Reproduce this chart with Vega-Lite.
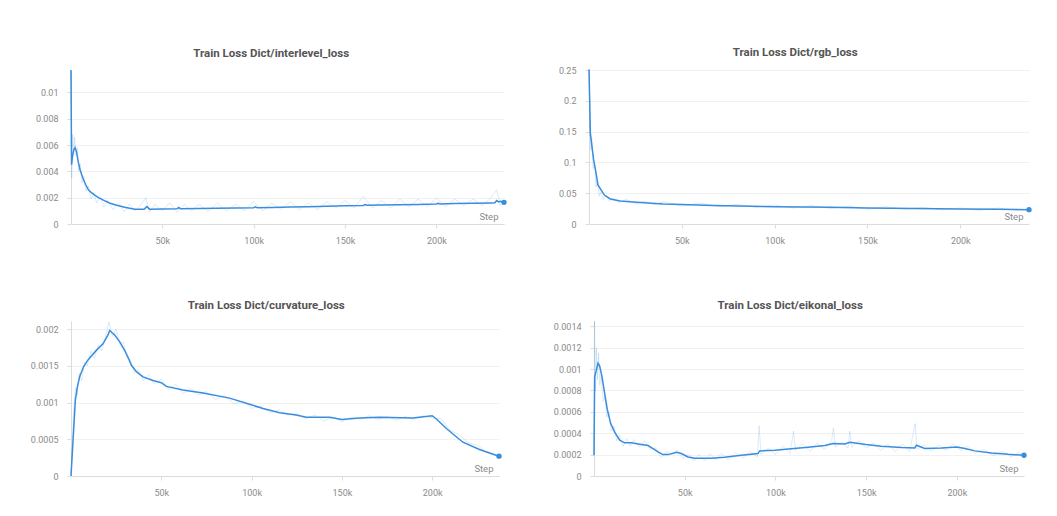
{
  "$schema": "https://vega.github.io/schema/vega-lite/v6.json",
  "background": "white",
  "padding": {"left": 30, "top": 46, "right": 5, "bottom": 5},
  "config": {
    "view": {"stroke": null},
    "axis": {"domainColor": "#dcdcdc", "tickColor": "#dcdcdc", "gridColor": "#f1f1f1", "labelColor": "#8a8a8a", "labelFont": "Roboto", "labelFontSize": 9, "tickSize": 4, "titleFont": "Roboto", "titleFontSize": 9.5, "titleFontWeight": "normal", "titleColor": "#8a8a8a"},
    "axisX": {"grid": false, "labelPadding": 8, "titleAlign": "right", "titleBaseline": "middle", "titleY": -8},
    "axisY": {"grid": true, "title": null, "labelPadding": 9, "format": "~g"},
    "title": {"font": "Roboto", "fontSize": 11.5, "fontWeight": "bold", "color": "#555555", "offset": 8, "anchor": "middle", "frame": "bounds"},
    "line": {"color": "#3a8ddd"},
    "circle": {"color": "#3a8ddd", "opacity": 1}
  },
  "datasets": {
    "interlevel_smooth": [
      {"step":0,"value":0.0117},{"step":300,"value":0.0045},{"step":800,"value":0.0051},{"step":1500,"value":0.0056},{"step":2200,"value":0.0058},{"step":3000,"value":0.0055},{"step":4000,"value":0.0047},{"step":5000,"value":0.0041},{"step":6500,"value":0.0035},{"step":8000,"value":0.003},{"step":9500,"value":0.0026},{"step":11000,"value":0.0024},{"step":13000,"value":0.0022},{"step":15000,"value":0.002},{"step":18000,"value":0.0018},{"step":21000,"value":0.0016},{"step":25000,"value":0.00143},{"step":30000,"value":0.00125},{"step":35000,"value":0.00113},{"step":40000,"value":0.00112},{"step":41500,"value":0.00132},{"step":43000,"value":0.00113},{"step":50000,"value":0.00114},{"step":58000,"value":0.00115},{"step":59000,"value":0.00125},{"step":60000,"value":0.00115},{"step":70000,"value":0.00117},{"step":80000,"value":0.00119},{"step":90000,"value":0.00121},{"step":100000,"value":0.00124},{"step":101000,"value":0.0013},{"step":102000,"value":0.00123},{"step":110000,"value":0.00126},{"step":120000,"value":0.00129},{"step":130000,"value":0.00132},{"step":140000,"value":0.00135},{"step":150000,"value":0.00138},{"step":160000,"value":0.00141},{"step":161000,"value":0.00148},{"step":162000,"value":0.00142},{"step":170000,"value":0.00144},{"step":180000,"value":0.00146},{"step":190000,"value":0.00149},{"step":200000,"value":0.00152},{"step":201000,"value":0.00158},{"step":202000,"value":0.00152},{"step":210000,"value":0.00155},{"step":220000,"value":0.00157},{"step":230000,"value":0.0016},{"step":232000,"value":0.00161},{"step":233000,"value":0.00178},{"step":234000,"value":0.00168},{"step":235000,"value":0.00172},{"step":237000,"value":0.00165}
    ],
    "interlevel_raw": [
      {"step":0,"value":0.0117},{"step":400,"value":0.0035},{"step":900,"value":0.0068},{"step":1400,"value":0.0055},{"step":2000,"value":0.0066},{"step":2700,"value":0.0052},{"step":3400,"value":0.0058},{"step":4200,"value":0.004},{"step":5000,"value":0.0046},{"step":6000,"value":0.0031},{"step":7000,"value":0.0036},{"step":8200,"value":0.0025},{"step":9500,"value":0.0029},{"step":11000,"value":0.0019},{"step":12500,"value":0.0024},{"step":14000,"value":0.0016},{"step":16000,"value":0.0021},{"step":18000,"value":0.0013},{"step":20000,"value":0.0018},{"step":23000,"value":0.0011},{"step":26000,"value":0.0016},{"step":29000,"value":0.00095},{"step":32000,"value":0.0015},{"step":35000,"value":0.001},{"step":38000,"value":0.0014},{"step":41000,"value":0.002},{"step":43000,"value":0.0009},{"step":46000,"value":0.0015},{"step":50000,"value":0.001},{"step":54000,"value":0.0016},{"step":58000,"value":0.0009},{"step":62000,"value":0.0015},{"step":66000,"value":0.001},{"step":70000,"value":0.0015},{"step":75000,"value":0.00095},{"step":80000,"value":0.0016},{"step":85000,"value":0.001},{"step":90000,"value":0.0015},{"step":95000,"value":0.001},{"step":100000,"value":0.0017},{"step":105000,"value":0.001},{"step":110000,"value":0.0016},{"step":115000,"value":0.0011},{"step":120000,"value":0.0017},{"step":125000,"value":0.0011},{"step":130000,"value":0.0016},{"step":135000,"value":0.0011},{"step":140000,"value":0.0017},{"step":145000,"value":0.0012},{"step":150000,"value":0.0018},{"step":155000,"value":0.0012},{"step":160000,"value":0.0021},{"step":165000,"value":0.0012},{"step":170000,"value":0.0018},{"step":175000,"value":0.0012},{"step":180000,"value":0.0019},{"step":185000,"value":0.0013},{"step":190000,"value":0.0019},{"step":195000,"value":0.0013},{"step":200000,"value":0.002},{"step":205000,"value":0.0013},{"step":210000,"value":0.0019},{"step":215000,"value":0.0014},{"step":220000,"value":0.0019},{"step":225000,"value":0.0014},{"step":230000,"value":0.002},{"step":233000,"value":0.0026},{"step":235000,"value":0.0014},{"step":237000,"value":0.0017}
    ],
    "rgb_smooth": [
      {"step":0,"value":0.251},{"step":360,"value":0.202},{"step":720,"value":0.148},{"step":1600,"value":0.126},{"step":2500,"value":0.104},{"step":3800,"value":0.0826},{"step":4800,"value":0.0635},{"step":6500,"value":0.0554},{"step":8300,"value":0.047},{"step":11500,"value":0.0407},{"step":16900,"value":0.0375},{"step":25800,"value":0.0353},{"step":40000,"value":0.0326},{"step":50000,"value":0.0315},{"step":67000,"value":0.0299},{"step":100000,"value":0.0282},{"step":130000,"value":0.0272},{"step":150000,"value":0.026},{"step":175000,"value":0.025},{"step":200000,"value":0.0244},{"step":220000,"value":0.0239},{"step":237000,"value":0.0233}
    ],
    "rgb_raw": [
      {"step":0,"value":0.25},{"step":500,"value":0.17},{"step":1000,"value":0.12},{"step":1500,"value":0.14},{"step":2200,"value":0.09},{"step":3000,"value":0.1},{"step":3800,"value":0.06},{"step":4600,"value":0.07},{"step":5500,"value":0.045},{"step":6500,"value":0.052},{"step":7500,"value":0.04},{"step":9000,"value":0.046},{"step":11000,"value":0.037},{"step":13000,"value":0.042},{"step":16000,"value":0.034},{"step":20000,"value":0.04},{"step":25000,"value":0.032},{"step":30000,"value":0.037},{"step":35000,"value":0.031},{"step":40000,"value":0.036},{"step":50000,"value":0.029},{"step":60000,"value":0.034},{"step":70000,"value":0.028},{"step":80000,"value":0.032},{"step":90000,"value":0.027},{"step":100000,"value":0.031},{"step":110000,"value":0.026},{"step":120000,"value":0.03},{"step":130000,"value":0.025},{"step":140000,"value":0.029},{"step":150000,"value":0.024},{"step":160000,"value":0.028},{"step":170000,"value":0.024},{"step":180000,"value":0.027},{"step":190000,"value":0.023},{"step":200000,"value":0.026},{"step":210000,"value":0.022},{"step":220000,"value":0.026},{"step":230000,"value":0.022},{"step":237000,"value":0.024}
    ],
    "curvature_smooth": [
      {"step":0,"value":0},{"step":2400,"value":0.00103},{"step":3500,"value":0.00121},{"step":4800,"value":0.00135},{"step":7000,"value":0.00149},{"step":9400,"value":0.00158},{"step":14000,"value":0.00171},{"step":17700,"value":0.0018},{"step":20500,"value":0.00192},{"step":21400,"value":0.00198},{"step":24200,"value":0.00192},{"step":26900,"value":0.00183},{"step":29700,"value":0.00171},{"step":31500,"value":0.00162},{"step":33400,"value":0.00151},{"step":36200,"value":0.00142},{"step":39900,"value":0.00135},{"step":45400,"value":0.0013},{"step":50000,"value":0.00127},{"step":52800,"value":0.00122},{"step":62000,"value":0.00117},{"step":73100,"value":0.00113},{"step":87800,"value":0.00106},{"step":99800,"value":0.00097},{"step":106300,"value":0.00092},{"step":115500,"value":0.00086},{"step":124700,"value":0.00083},{"step":130300,"value":0.0008},{"step":143200,"value":0.0008},{"step":150000,"value":0.00077},{"step":159800,"value":0.00079},{"step":170800,"value":0.0008},{"step":189300,"value":0.00079},{"step":200000,"value":0.00082},{"step":202200,"value":0.00078},{"step":207700,"value":0.00065},{"step":217000,"value":0.00046},{"step":226200,"value":0.00036},{"step":237000,"value":0.00027}
    ],
    "curvature_raw": [
      {"step":0,"value":0},{"step":1500,"value":0.0009},{"step":2500,"value":0.0012},{"step":3500,"value":0.0011},{"step":4500,"value":0.0014},{"step":6000,"value":0.0013},{"step":7500,"value":0.00155},{"step":9000,"value":0.0015},{"step":11000,"value":0.0017},{"step":13000,"value":0.0016},{"step":15000,"value":0.00178},{"step":17000,"value":0.0017},{"step":19000,"value":0.00188},{"step":21000,"value":0.0021},{"step":23000,"value":0.0019},{"step":25000,"value":0.002},{"step":27000,"value":0.0018},{"step":29000,"value":0.00182},{"step":31000,"value":0.0016},{"step":33000,"value":0.00158},{"step":35000,"value":0.0014},{"step":37000,"value":0.00145},{"step":40000,"value":0.0013},{"step":43000,"value":0.00138},{"step":46000,"value":0.00125},{"step":50000,"value":0.00132},{"step":54000,"value":0.00118},{"step":58000,"value":0.00125},{"step":62000,"value":0.00112},{"step":66000,"value":0.0012},{"step":70000,"value":0.0011},{"step":75000,"value":0.00115},{"step":80000,"value":0.00104},{"step":85000,"value":0.0011},{"step":90000,"value":0.00098},{"step":95000,"value":0.00102},{"step":100000,"value":0.00092},{"step":105000,"value":0.00095},{"step":110000,"value":0.00086},{"step":115000,"value":0.0009},{"step":120000,"value":0.00083},{"step":125000,"value":0.00085},{"step":130000,"value":0.00078},{"step":135000,"value":0.00083},{"step":140000,"value":0.00075},{"step":145000,"value":0.0008},{"step":150000,"value":0.00074},{"step":155000,"value":0.0008},{"step":160000,"value":0.00077},{"step":165000,"value":0.00082},{"step":170000,"value":0.00077},{"step":175000,"value":0.00081},{"step":180000,"value":0.00076},{"step":185000,"value":0.00081},{"step":190000,"value":0.00077},{"step":195000,"value":0.00082},{"step":200000,"value":0.00079},{"step":205000,"value":0.00078},{"step":210000,"value":0.00062},{"step":215000,"value":0.00056},{"step":220000,"value":0.00045},{"step":225000,"value":0.00042},{"step":230000,"value":0.00032},{"step":237000,"value":0.00027}
    ],
    "eikonal_smooth": [
      {"step":0,"value":0.000194},{"step":370,"value":0.00093},{"step":1300,"value":0.00099},{"step":2200,"value":0.001055},{"step":3100,"value":0.00103},{"step":4400,"value":0.00093},{"step":5900,"value":0.00077},{"step":7350,"value":0.00062},{"step":9200,"value":0.00049},{"step":11400,"value":0.00041},{"step":14150,"value":0.000335},{"step":16900,"value":0.00031},{"step":20600,"value":0.00031},{"step":24300,"value":0.0003},{"step":29800,"value":0.000285},{"step":32500,"value":0.000257},{"step":35300,"value":0.000225},{"step":38000,"value":0.0002},{"step":40800,"value":0.0002},{"step":45400,"value":0.000222},{"step":48200,"value":0.00021},{"step":51800,"value":0.000178},{"step":55500,"value":0.000166},{"step":64700,"value":0.000166},{"step":72000,"value":0.000175},{"step":81200,"value":0.000194},{"step":90400,"value":0.00021},{"step":91300,"value":0.000235},{"step":99600,"value":0.00024},{"step":108800,"value":0.000254},{"step":118000,"value":0.00027},{"step":127200,"value":0.000285},{"step":131800,"value":0.000304},{"step":138200,"value":0.0003},{"step":141000,"value":0.000316},{"step":149800,"value":0.000294},{"step":158400,"value":0.000279},{"step":169500,"value":0.000266},{"step":176800,"value":0.000263},{"step":177700,"value":0.000288},{"step":182300,"value":0.000257},{"step":191500,"value":0.000263},{"step":200000,"value":0.000272},{"step":204400,"value":0.000257},{"step":209900,"value":0.000235},{"step":219100,"value":0.000216},{"step":228300,"value":0.000203},{"step":237000,"value":0.000194}
    ],
    "eikonal_raw": [
      {"step":0,"value":0.0002},{"step":300,"value":0.00145},{"step":800,"value":0.0008},{"step":1300,"value":0.0012},{"step":1900,"value":0.0009},{"step":2500,"value":0.00115},{"step":3200,"value":0.00085},{"step":4000,"value":0.00095},{"step":5000,"value":0.0007},{"step":6000,"value":0.00075},{"step":7000,"value":0.00055},{"step":8200,"value":0.0006},{"step":9500,"value":0.00042},{"step":11000,"value":0.00047},{"step":12500,"value":0.00033},{"step":14000,"value":0.00038},{"step":16000,"value":0.00028},{"step":18000,"value":0.00035},{"step":20000,"value":0.00028},{"step":22000,"value":0.00034},{"step":25000,"value":0.00027},{"step":28000,"value":0.00033},{"step":31000,"value":0.00025},{"step":34000,"value":0.00026},{"step":37000,"value":0.00017},{"step":40000,"value":0.00023},{"step":43000,"value":0.0002},{"step":46000,"value":0.00024},{"step":49000,"value":0.00016},{"step":52000,"value":0.00021},{"step":55000,"value":0.00014},{"step":58000,"value":0.0002},{"step":61000,"value":0.00014},{"step":64000,"value":0.00021},{"step":67000,"value":0.00015},{"step":70000,"value":0.00021},{"step":74000,"value":0.00015},{"step":78000,"value":0.00022},{"step":82000,"value":0.00017},{"step":86000,"value":0.00023},{"step":90000,"value":0.00018},{"step":91000,"value":0.00047},{"step":92000,"value":0.0002},{"step":96000,"value":0.00026},{"step":100000,"value":0.0002},{"step":104000,"value":0.00028},{"step":108000,"value":0.00021},{"step":110000,"value":0.00042},{"step":111000,"value":0.00024},{"step":115000,"value":0.0003},{"step":119000,"value":0.00023},{"step":123000,"value":0.00031},{"step":127000,"value":0.00025},{"step":131000,"value":0.00033},{"step":132000,"value":0.00045},{"step":133000,"value":0.00027},{"step":137000,"value":0.00032},{"step":140000,"value":0.00026},{"step":141000,"value":0.00042},{"step":142000,"value":0.00027},{"step":146000,"value":0.00033},{"step":150000,"value":0.00026},{"step":154000,"value":0.00031},{"step":158000,"value":0.00024},{"step":162000,"value":0.0003},{"step":166000,"value":0.00023},{"step":170000,"value":0.0003},{"step":174000,"value":0.00023},{"step":177000,"value":0.00049},{"step":178000,"value":0.00025},{"step":182000,"value":0.00029},{"step":186000,"value":0.00023},{"step":190000,"value":0.00029},{"step":194000,"value":0.00024},{"step":198000,"value":0.0003},{"step":202000,"value":0.00024},{"step":206000,"value":0.00028},{"step":210000,"value":0.00021},{"step":215000,"value":0.00025},{"step":220000,"value":0.00019},{"step":225000,"value":0.00023},{"step":230000,"value":0.00018},{"step":234000,"value":0.00022},{"step":237000,"value":0.0002}
    ]
  },
  "align": "none",
  "spacing": 54,
  "vconcat": [
    {
      "spacing": 51,
      "hconcat": [
        {
          "width": 433, "height": 154,
          "title": "Train Loss Dict/interlevel_loss",
          "encoding": {
            "x": {"field": "step", "type": "quantitative", "scale": {"domain": [0, 237000], "nice": false, "zero": false}, "axis": {"values": [50000, 100000, 150000, 200000], "format": "~s", "title": "Step", "titleX": 427}},
            "y": {"field": "value", "type": "quantitative", "scale": {"domain": [0, 0.0117], "nice": false}, "axis": {"values": [0, 0.002, 0.004, 0.006, 0.008, 0.01]}}
          },
          "layer": [
            {"data": {"name": "interlevel_raw"}, "mark": {"type": "line", "opacity": 0.18, "strokeWidth": 1}},
            {"data": {"name": "interlevel_smooth"}, "mark": {"type": "line", "strokeWidth": 1.5}},
            {"data": {"name": "interlevel_smooth"}, "transform": [{"filter": {"field": "step", "equal": 237000}}], "mark": {"type": "circle", "size": 28}}
          ]
        },
        {
          "width": 440, "height": 154,
          "title": "Train Loss Dict/rgb_loss",
          "encoding": {
            "x": {"field": "step", "type": "quantitative", "scale": {"domain": [0, 237000], "nice": false, "zero": false}, "axis": {"values": [50000, 100000, 150000, 200000], "format": "~s", "title": "Step", "titleX": 434}},
            "y": {"field": "value", "type": "quantitative", "scale": {"domain": [0, 0.25], "nice": false}, "axis": {"values": [0, 0.05, 0.1, 0.15, 0.2, 0.25]}}
          },
          "layer": [
            {"data": {"name": "rgb_raw"}, "mark": {"type": "line", "opacity": 0.18, "strokeWidth": 1}},
            {"data": {"name": "rgb_smooth"}, "mark": {"type": "line", "strokeWidth": 1.5}},
            {"data": {"name": "rgb_smooth"}, "transform": [{"filter": {"field": "step", "equal": 237000}}], "mark": {"type": "circle", "size": 28}}
          ]
        }
      ]
    },
    {
      "spacing": 51,
      "hconcat": [
        {
          "width": 428, "height": 155,
          "title": "Train Loss Dict/curvature_loss",
          "encoding": {
            "x": {"field": "step", "type": "quantitative", "scale": {"domain": [0, 237000], "nice": false, "zero": false}, "axis": {"values": [50000, 100000, 150000, 200000], "format": "~s", "title": "Step", "titleX": 422}},
            "y": {"field": "value", "type": "quantitative", "scale": {"domain": [0, 0.00211], "nice": false}, "axis": {"values": [0, 0.0005, 0.001, 0.0015, 0.002]}}
          },
          "layer": [
            {"data": {"name": "curvature_raw"}, "mark": {"type": "line", "opacity": 0.18, "strokeWidth": 1}},
            {"data": {"name": "curvature_smooth"}, "mark": {"type": "line", "strokeWidth": 1.5}},
            {"data": {"name": "curvature_smooth"}, "transform": [{"filter": {"field": "step", "equal": 237000}}], "mark": {"type": "circle", "size": 28}}
          ]
        },
        {
          "width": 430, "height": 155,
          "title": "Train Loss Dict/eikonal_loss",
          "encoding": {
            "x": {"field": "step", "type": "quantitative", "scale": {"domain": [0, 237000], "nice": false, "zero": false}, "axis": {"values": [50000, 100000, 150000, 200000], "format": "~s", "title": "Step", "titleX": 424}},
            "y": {"field": "value", "type": "quantitative", "scale": {"domain": [0, 0.00145], "nice": false}, "axis": {"values": [0, 0.0002, 0.0004, 0.0006, 0.0008, 0.001, 0.0012, 0.0014]}}
          },
          "layer": [
            {"data": {"name": "eikonal_raw"}, "mark": {"type": "line", "opacity": 0.18, "strokeWidth": 1}},
            {"data": {"name": "eikonal_smooth"}, "mark": {"type": "line", "strokeWidth": 1.5}},
            {"data": {"name": "eikonal_smooth"}, "transform": [{"filter": {"field": "step", "equal": 237000}}], "mark": {"type": "circle", "size": 28}}
          ]
        }
      ]
    }
  ]
}
